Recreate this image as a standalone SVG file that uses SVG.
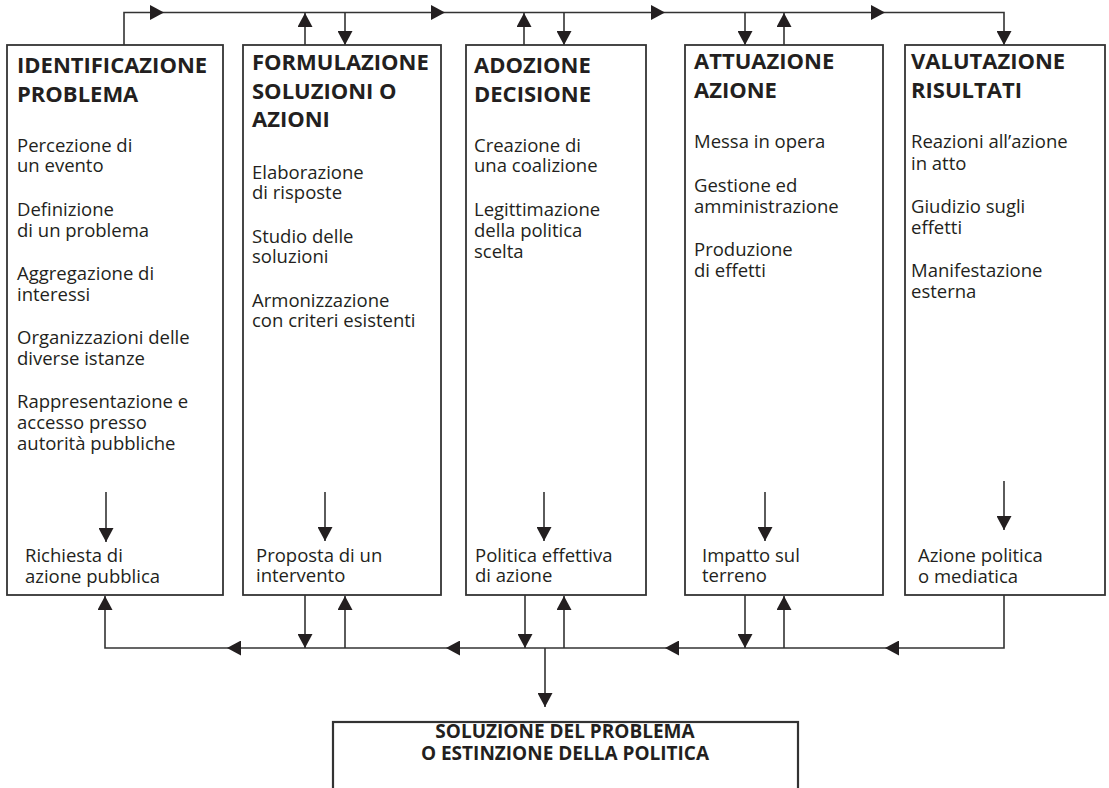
<svg xmlns="http://www.w3.org/2000/svg" width="1109" height="788" viewBox="0 0 1109 788">
<defs>
<marker id="ah" markerUnits="userSpaceOnUse" markerWidth="15" markerHeight="15" refX="14" refY="7.5" orient="auto" viewBox="0 0 15 15">
<path d="M0,0 L14,7.5 L0,15 z" fill="#231f20"/>
</marker>
<style>
.box{fill:#fff;stroke:#333;stroke-width:1.8}
.ar{fill:none;stroke:#333;stroke-width:1.6;marker-end:url(#ah)}
.h{font-family:"Open Sans","Noto Sans",sans-serif;font-weight:bold;font-size:22px;fill:#231f20}
.t{font-family:"Open Sans","Noto Sans",sans-serif;font-size:18.5px;fill:#231f20}
.hb{font-family:"Open Sans","Noto Sans",sans-serif;font-weight:bold;font-size:19px;fill:#231f20;text-anchor:middle}
</style>
</defs>
<rect width="1109" height="788" fill="#fff"/>

<g id="connectors">
<path class="ar" d="M124,45 V12.5 H164"/>
<line class="ar" x1="164" y1="12.5" x2="445" y2="12.5"/>
<line class="ar" x1="445" y1="12.5" x2="665" y2="12.5"/>
<line class="ar" x1="665" y1="12.5" x2="885" y2="12.5"/>
<path class="ar" d="M885,12.5 H1004 V45"/>
<line class="ar" x1="305" y1="45" x2="305" y2="13"/>
<line class="ar" x1="345" y1="12.5" x2="345" y2="45"/>
<line class="ar" x1="524" y1="45" x2="524" y2="13"/>
<line class="ar" x1="564" y1="12.5" x2="564" y2="45"/>
<line class="ar" x1="745" y1="12.5" x2="745" y2="45"/>
<line class="ar" x1="784" y1="45" x2="784" y2="13"/>

<path class="ar" d="M1004,595 V648 H885"/>
<line class="ar" x1="885" y1="648" x2="665" y2="648"/>
<line class="ar" x1="665" y1="648" x2="446" y2="648"/>
<line class="ar" x1="446" y1="648" x2="227" y2="648"/>
<path class="ar" d="M227,648 H105 V596"/>
<line class="ar" x1="305" y1="595" x2="305" y2="648"/>
<line class="ar" x1="345" y1="648" x2="345" y2="596"/>
<line class="ar" x1="525" y1="595" x2="525" y2="648"/>
<line class="ar" x1="564" y1="648" x2="564" y2="596"/>
<line class="ar" x1="745" y1="595" x2="745" y2="648"/>
<line class="ar" x1="784" y1="648" x2="784" y2="596"/>
<line class="ar" x1="545" y1="648" x2="545" y2="707"/>
</g>

<g id="identificazione">
<rect class="box" x="7" y="45" width="216" height="550"/>
<text class="h"><tspan x="17" y="73">IDENTIFICAZIONE</tspan><tspan x="17" y="102">PROBLEMA</tspan></text>
<text class="t"><tspan x="17" y="152">Percezione di</tspan><tspan x="17" y="172">un evento</tspan></text>
<text class="t"><tspan x="17" y="216">Definizione</tspan><tspan x="17" y="237">di un problema</tspan></text>
<text class="t"><tspan x="17" y="280">Aggregazione di</tspan><tspan x="17" y="301">interessi</tspan></text>
<text class="t"><tspan x="17" y="344">Organizzazioni delle</tspan><tspan x="17" y="365">diverse istanze</tspan></text>
<text class="t"><tspan x="17" y="408">Rappresentazione e</tspan><tspan x="17" y="429">accesso presso</tspan><tspan x="17" y="450">autorità pubbliche</tspan></text>
<line class="ar" x1="106" y1="492" x2="106" y2="542"/>
<text class="t"><tspan x="25" y="562">Richiesta di</tspan><tspan x="25" y="583">azione pubblica</tspan></text>
</g>

<g id="formulazione">
<rect class="box" x="243" y="45" width="198" height="550"/>
<text class="h"><tspan x="252" y="70">FORMULAZIONE</tspan><tspan x="252" y="99">SOLUZIONI O</tspan><tspan x="252" y="127">AZIONI</tspan></text>
<text class="t"><tspan x="252" y="179">Elaborazione</tspan><tspan x="252" y="199">di risposte</tspan></text>
<text class="t"><tspan x="252" y="243">Studio delle</tspan><tspan x="252" y="263">soluzioni</tspan></text>
<text class="t"><tspan x="252" y="307">Armonizzazione</tspan><tspan x="252" y="327">con criteri esistenti</tspan></text>
<line class="ar" x1="325" y1="492" x2="325" y2="541"/>
<text class="t"><tspan x="256" y="562">Proposta di un</tspan><tspan x="256" y="582">intervento</tspan></text>
</g>

<g id="adozione">
<rect class="box" x="466" y="45" width="180" height="550"/>
<text class="h"><tspan x="474" y="73">ADOZIONE</tspan><tspan x="474" y="102">DECISIONE</tspan></text>
<text class="t"><tspan x="474" y="152">Creazione di</tspan><tspan x="474" y="172">una coalizione</tspan></text>
<text class="t"><tspan x="474" y="216">Legittimazione</tspan><tspan x="474" y="237">della politica</tspan><tspan x="474" y="258">scelta</tspan></text>
<line class="ar" x1="544" y1="492" x2="544" y2="541"/>
<text class="t"><tspan x="475" y="562">Politica effettiva</tspan><tspan x="475" y="582">di azione</tspan></text>
</g>

<g id="attuazione">
<rect class="box" x="685" y="45" width="198" height="550"/>
<text class="h"><tspan x="694" y="69">ATTUAZIONE</tspan><tspan x="694" y="98">AZIONE</tspan></text>
<text class="t" x="694" y="148">Messa in opera</text>
<text class="t"><tspan x="694" y="192">Gestione ed</tspan><tspan x="694" y="213">amministrazione</tspan></text>
<text class="t"><tspan x="694" y="256">Produzione</tspan><tspan x="694" y="277">di effetti</tspan></text>
<line class="ar" x1="765" y1="492" x2="765" y2="541"/>
<text class="t"><tspan x="702" y="562">Impatto sul</tspan><tspan x="702" y="582">terreno</tspan></text>
</g>

<g id="valutazione">
<rect class="box" x="905" y="45" width="200" height="550"/>
<text class="h"><tspan x="911" y="69">VALUTAZIONE</tspan><tspan x="911" y="98">RISULTATI</tspan></text>
<text class="t"><tspan x="911" y="148">Reazioni all’azione</tspan><tspan x="911" y="170">in atto</tspan></text>
<text class="t"><tspan x="911" y="213">Giudizio sugli</tspan><tspan x="911" y="234">effetti</tspan></text>
<text class="t"><tspan x="911" y="277">Manifestazione</tspan><tspan x="911" y="298">esterna</tspan></text>
<line class="ar" x1="1004" y1="481" x2="1004" y2="530"/>
<text class="t"><tspan x="918" y="562">Azione politica</tspan><tspan x="918" y="583">o mediatica</tspan></text>
</g>

<g id="soluzione">
<rect class="box" x="333" y="722" width="465" height="80" style="stroke-width:2.2"/>
<text class="hb"><tspan x="565" y="738">SOLUZIONE DEL PROBLEMA</tspan><tspan x="565" y="760">O ESTINZIONE DELLA POLITICA</tspan></text>
</g>
</svg>
